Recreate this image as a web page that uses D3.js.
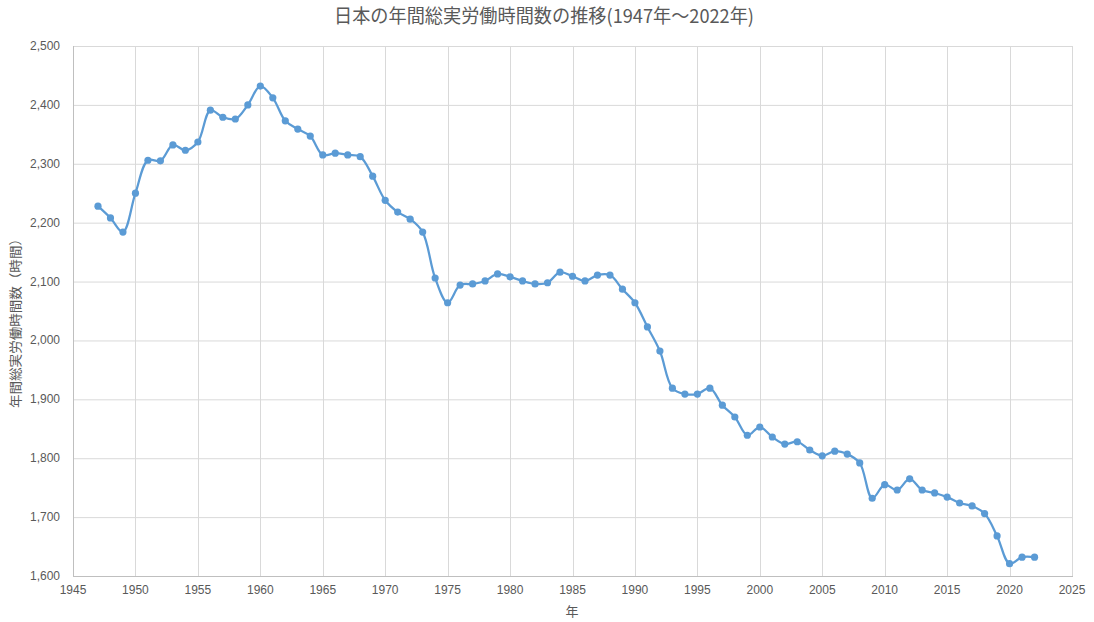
<!DOCTYPE html>
<html><head><meta charset="utf-8">
<script src="https://cdn.jsdelivr.net/npm/d3@7/dist/d3.min.js"></script>
<style>body{margin:0;background:#fff}svg{display:block}</style>
</head><body><svg id="c" width="1094" height="622"></svg>
<script>
const years = d3.range(1947, 2023);
const hours = [2228,2208,2184,2250,2306,2305,2332,2323,2337,2391,2379,2376,2400,2432,2412,2373,2359,2347,2315,2318,2315,2312,2279,2238,2218,2206,2184,2106,2064,2094,2096,2101,2113,2108,2101,2096,2098,2116,2109,2101,2111,2111,2087,2064,2023,1982,1919,1909,1909,1919,1890,1870,1839,1853,1836,1824,1828,1814,1804,1812,1807,1792,1732,1755,1746,1765,1746,1741,1734,1724,1719,1706,1668,1621,1632,1632];
const xTicks = d3.range(1945, 2026, 5);
const yTicks = d3.range(1600, 2501, 100);
const title = "日本の年間総実労働時間数の推移(1947年～2022年)";
const yTitle = "年間総実労働時間数（時間）";
const xTitle = "年";

const svg = d3.select("#c");
const L = 73, R = 1072, T = 46, B = 576;
const x = d3.scaleLinear().domain([1945, 2025]).range([L, R]);
const y = d3.scaleLinear().domain([1600, 2500]).range([B, T]);
const tickFont = "'Liberation Sans Narrow','Liberation Sans',sans-serif";
const cjk = "'Noto Sans CJK JP',sans-serif";

// grid
svg.append("g").selectAll("line").data(yTicks).join("line")
  .attr("x1", L).attr("x2", R).attr("y1", d => y(d)+0.5).attr("y2", d => y(d)+0.5)
  .attr("stroke", "#d9d9d9").attr("stroke-width", 1);
svg.append("g").selectAll("line").data(xTicks).join("line")
  .attr("y1", T).attr("y2", B).attr("x1", d => Math.round(x(d))+0.5).attr("x2", d => Math.round(x(d))+0.5)
  .attr("stroke", "#d9d9d9").attr("stroke-width", 1);
// axis lines
svg.append("line").attr("x1", L+0.5).attr("x2", L+0.5).attr("y1", T).attr("y2", B+0.5).attr("stroke", "#bfbfbf");
svg.append("line").attr("x1", L).attr("x2", R+1).attr("y1", B+0.5).attr("y2", B+0.5).attr("stroke", "#bfbfbf");

// tick labels
svg.append("g").selectAll("text").data(yTicks).join("text")
  .attr("x", 60).attr("y", d => y(d)+4).attr("text-anchor", "end")
  .attr("font-family", tickFont).attr("font-size", 12).attr("fill", "#595959")
  .text(d => d3.format(",")(d));
svg.append("g").selectAll("text").data(xTicks).join("text")
  .attr("x", d => x(d)).attr("y", 594).attr("text-anchor", "middle")
  .attr("font-family", tickFont).attr("font-size", 12).attr("fill", "#595959")
  .text(d => d);

// titles
svg.append("text").attr("x", 544).attr("y", 23).attr("text-anchor", "middle")
  .attr("font-family", cjk).attr("font-size", 19).attr("fill", "#595959")
  .attr("textLength", 420).attr("lengthAdjust", "spacingAndGlyphs").text(title);
svg.append("text").attr("transform", "translate(20,320) rotate(-90)").attr("text-anchor", "middle")
  .attr("font-family", cjk).attr("font-size", 13).attr("fill", "#595959")
  .attr("textLength", 176).attr("lengthAdjust", "spacingAndGlyphs").text(yTitle);
svg.append("text").attr("x", 572).attr("y", 616).attr("text-anchor", "middle")
  .attr("font-family", cjk).attr("font-size", 13).attr("fill", "#595959").text(xTitle);

// line
const data = years.map((yr, i) => ({yr, v: hours[i]}));
svg.append("path").datum(data)
  .attr("d", d3.line().x(d => x(d.yr)).y(d => y(d.v)).curve(d3.curveCatmullRom.alpha(0.5)))
  .attr("fill", "none").attr("stroke", "#5b9bd5").attr("stroke-width", 2.25).attr("stroke-linejoin", "round");
svg.append("g").selectAll("circle").data(data).join("circle")
  .attr("cx", d => x(d.yr)).attr("cy", d => y(d.v)).attr("r", 3.6).attr("fill", "#5b9bd5");
</script></body></html>
